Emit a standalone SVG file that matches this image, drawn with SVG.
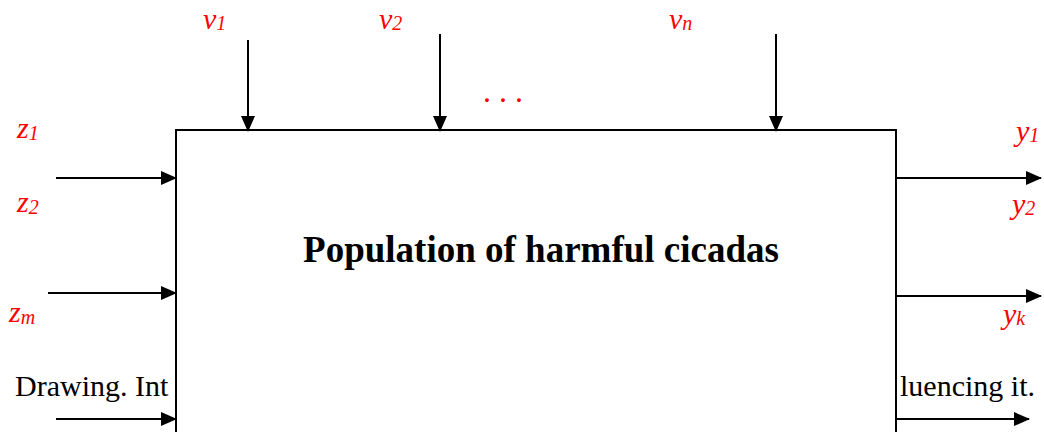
<svg xmlns="http://www.w3.org/2000/svg" width="1044" height="432" viewBox="0 0 1044 432">
<style>
.lbl{font-family:"Liberation Serif","Times New Roman","DejaVu Serif",serif;font-style:italic;font-size:30px;fill:#ff0000}
.sub{font-size:20px}
.body{font-family:"Liberation Serif","Times New Roman","DejaVu Serif",serif;font-size:30px;fill:#000}
.title{font-family:"Liberation Serif","Times New Roman","DejaVu Serif",serif;font-size:37px;font-weight:bold;fill:#000}
.dots{font-family:"Liberation Serif","Times New Roman","DejaVu Serif",serif;font-size:32px;fill:#ff0000}
.ln{stroke:#000;stroke-width:2;fill:none}
</style>
<defs>
<marker id="ah" markerWidth="16" markerHeight="14" refX="15" refY="7" orient="auto" markerUnits="userSpaceOnUse">
<path d="M0,0 L16,7 L0,14 Z" fill="#000"/>
</marker>
</defs>
<rect width="1044" height="432" fill="#fff"/>
<text class="body" x="15" y="396">Drawing. Int</text>
<text class="body" x="1035" y="396" text-anchor="end">luencing it.</text>
<g id="box">
<rect x="176" y="130" width="720" height="320" fill="#fff" stroke="#000" stroke-width="2"/>
<text class="title" x="541" y="262" text-anchor="middle">Population of harmful cicadas</text>
</g>
<g id="connectors">
<line class="ln" x1="248" y1="40" x2="248" y2="131" marker-end="url(#ah)"/>
<line class="ln" x1="440" y1="34" x2="440" y2="131" marker-end="url(#ah)"/>
<line class="ln" x1="776" y1="34" x2="776" y2="131" marker-end="url(#ah)"/>
<line class="ln" x1="56" y1="178" x2="176" y2="178" marker-end="url(#ah)"/>
<line class="ln" x1="48" y1="293" x2="176" y2="293" marker-end="url(#ah)"/>
<line class="ln" x1="56" y1="419" x2="176" y2="419" marker-end="url(#ah)"/>
<line class="ln" x1="896" y1="178" x2="1041" y2="178" marker-end="url(#ah)"/>
<line class="ln" x1="896" y1="296" x2="1041" y2="296" marker-end="url(#ah)"/>
<line class="ln" x1="896" y1="419" x2="1029" y2="419" marker-end="url(#ah)"/>
</g>
<g id="labels">
<text class="lbl" x="203" y="29">v<tspan class="sub" dy="1">1</tspan></text>
<text class="lbl" x="379" y="29">v<tspan class="sub" dy="1">2</tspan></text>
<text class="lbl" x="669" y="29">v<tspan class="sub" dy="1">n</tspan></text>
<text class="lbl" x="17" y="138">z<tspan class="sub" dy="2">1</tspan></text>
<text class="lbl" x="17" y="212">z<tspan class="sub" dy="2">2</tspan></text>
<text class="lbl" x="9" y="322">z<tspan class="sub" dy="2">m</tspan></text>
<text class="lbl" x="1016" y="141">y<tspan class="sub" dy="1">1</tspan></text>
<text class="lbl" x="1012" y="214">y<tspan class="sub" dy="1">2</tspan></text>
<text class="lbl" x="1003" y="324">y<tspan class="sub" dy="1">k</tspan></text>
<text class="dots" x="483" y="102">. . .</text>
</g>
</svg>
